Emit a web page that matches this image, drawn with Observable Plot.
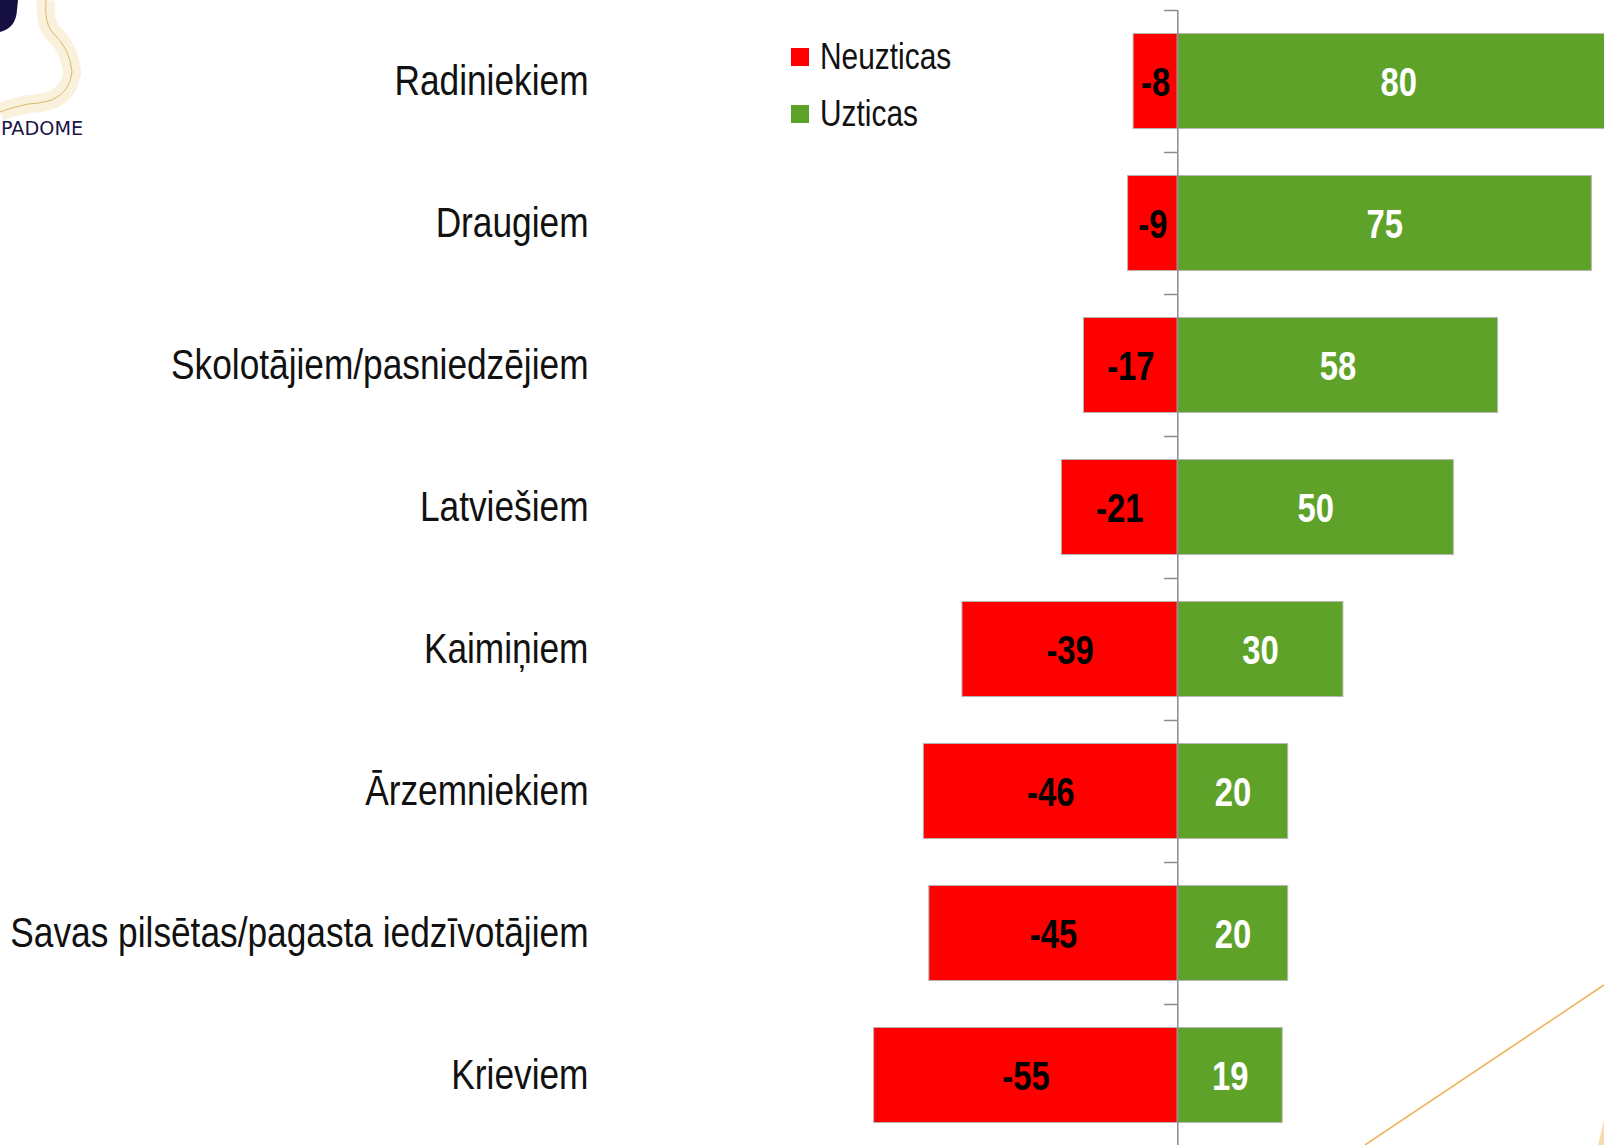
<!DOCTYPE html>
<html>
<head>
<meta charset="utf-8">
<script src="https://cdn.jsdelivr.net/npm/d3@7"></script>
<script src="https://cdn.jsdelivr.net/npm/@observablehq/plot@0.6"></script>
<style>
  html, body { margin: 0; padding: 0; background: #fff; overflow: hidden; }
  #wrap { position: relative; width: 1604px; height: 1145px; overflow: hidden; }
  .nf { font-family: "Liberation Sans", Arial, sans-serif; }
  #legend { position: absolute; left: 791px; top: 28px; font-size: 36px; color: #111; line-height: 57px; }
  #legend .sw { display: inline-block; width: 18px; height: 18px; margin-right: 11px; vertical-align: 3px; }
  #legend .lt { display: inline-block; transform: scaleX(0.83); transform-origin: 0 50%; }
  #logo { position: absolute; left: 0; top: 0; width: 120px; height: 150px; }
  #logotext { position: absolute; left: 1px; top: 116px; font-family: "DejaVu Sans", sans-serif; font-size: 20px; color: #1c1447; transform: scaleX(0.96); transform-origin: 0 0; }
  #deco { position: absolute; left: 0; top: 0; pointer-events: none; }
</style>
</head>
<body>
<div id="wrap">
  <div id="chart"></div>
  <svg id="logo" width="120" height="150">
    <path d="M 0 32 Q 16 28 17 10 L 18 0 L 0 0 Z" fill="#15103f"/>
    <path d="M 46 0 Q 44 22 52 32 Q 70 48 72 72 Q 70 92 52 100 Q 38 104 28 104 Q 10 108 0 112" fill="none" stroke="#f6e3bb" stroke-width="18" opacity="0.5"/>
    <path d="M 46 0 Q 44 22 52 32 Q 70 48 72 72 Q 70 92 52 100 Q 38 104 28 104 Q 10 108 0 112" fill="none" stroke="#d9b86a" stroke-width="1"/>
  </svg>
  <div id="logotext">PADOME</div>
  <div id="legend" class="nf">
    <div><span class="sw" style="background:#ff0000"></span><span class="lt">Neuzticas</span></div>
    <div><span class="sw" style="background:#5fa22a"></span><span class="lt">Uzticas</span></div>
  </div>
  <svg id="deco" width="1604" height="1145">
    <line x1="1604" y1="985" x2="1365" y2="1145" stroke="#efb55c" stroke-width="1.6"/>
    <polygon points="1598,1145 1604,1120 1604,1145" fill="#f7dcb0"/>
  </svg>
</div>
<script>
const categories = [
  "Radiniekiem",
  "Draugiem",
  "Skolotājiem/pasniedzējiem",
  "Latviešiem",
  "Kaimiņiem",
  "Ārzemniekiem",
  "Savas pilsētas/pagasta iedzīvotājiem",
  "Krieviem"
];
const neuzticas = [-8, -9, -17, -21, -39, -46, -45, -55];
const uzticas = [80, 75, 58, 50, 30, 20, 20, 19];
const seriesNames = ["Neuzticas", "Uzticas"];
const colors = ["#ff0000", "#5fa22a"];

const rows = [];
categories.forEach((c, i) => {
  rows.push({cat: c, series: seriesNames[0], value: neuzticas[i]});
  rows.push({cat: c, series: seriesNames[1], value: uzticas[i]});
});

const FONT = '"Liberation Sans", Arial, sans-serif';
const width = 1604, height = 1145;
const mTop = 10, mBottom = -1;
const step = (height - mTop - mBottom) / categories.length;

const chart = Plot.plot({
  width, height,
  marginLeft: 846, marginRight: -15, marginTop: mTop, marginBottom: mBottom,
  style: {fontFamily: FONT, fontSize: "43px", color: "#111", background: "transparent"},
  x: {domain: [-60, 80], axis: null},
  y: {domain: categories, paddingInner: 0.33, paddingOuter: 0.165, align: 0.5, round: false, tickSize: 0, tickPadding: 258, label: null},
  color: {domain: seriesNames, range: colors},
  marks: [
    Plot.barX(rows, {y: "cat", x1: 0, x2: "value", fill: "series", stroke: "#b8b8b8", strokeWidth: 1}),
    Plot.ruleX([0], {stroke: "#8c8c8c", strokeWidth: 1.5}),
    Plot.ruleY(categories, {y: d => d, x1: -2.4, x2: 0, dy: -step / 2, stroke: "#8c8c8c", strokeWidth: 1.5}),
    Plot.text(rows, {
      y: "cat", x: d => d.value / 2, dy: 2, text: d => String(d.value),
      fill: d => d.value < 0 ? "#000" : "#fff",
      fontSize: 40, fontWeight: "bold", fontFamily: FONT
    })
  ]
});
document.getElementById("chart").appendChild(chart);

// Emulate Arial Narrow: condense every text glyph horizontally in place.
chart.querySelectorAll("text").forEach(t => {
  if (!t.textContent) return;
  const len = t.getComputedTextLength();
  if (len > 0) {
    t.setAttribute("textLength", (len * 0.82).toFixed(2));
    t.setAttribute("lengthAdjust", "spacingAndGlyphs");
  }
});
</script>
</body>
</html>
